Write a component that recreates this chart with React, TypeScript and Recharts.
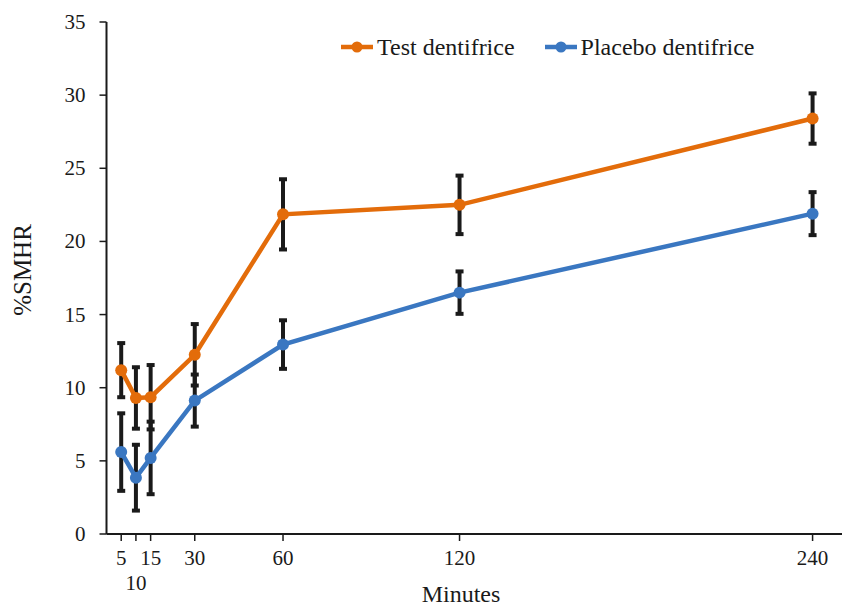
import { LineChart, Line, XAxis, YAxis, ErrorBar } from 'recharts'

const minutes = [5, 10, 15, 30, 60, 120, 240]
const testMean = [11.2, 9.3, 9.35, 12.25, 21.85, 22.5, 28.4]
const testErr = [1.85, 2.1, 2.2, 2.1, 2.4, 2.0, 1.72]
const placeboMean = [5.6, 3.85, 5.2, 9.12, 12.95, 16.5, 21.9]
const placeboErr = [2.65, 2.25, 2.48, 1.78, 1.66, 1.45, 1.47]
const yTicks = [0, 5, 10, 15, 20, 25, 30, 35]

const FONT = "'Liberation Serif', 'Times New Roman', serif"
const ORANGE = '#e36c0a'
const BLUE = '#3a77c1'
const INK = '#1a1a1a'

const data = minutes.map((m, i) => ({
  minute: m,
  test: testMean[i],
  testErr: testErr[i],
  placebo: placeboMean[i],
  placeboErr: placeboErr[i],
}))

function XTick({ x, y, payload }: any) {
  // the 10 label sits on a second row so it does not collide with 5 and 15
  const dy = payload.value === 10 ? 47 : 22
  return (
    <text x={x} y={y + dy} textAnchor="middle" fill={INK} fontSize={21} fontFamily={FONT}>
      {payload.value}
    </text>
  )
}

function YTick({ x, y, payload }: any) {
  return (
    <text x={x} y={y + 7} textAnchor="end" fill={INK} fontSize={21} fontFamily={FONT}>
      {payload.value}
    </text>
  )
}

function ChartLegend() {
  const items = [
    { name: 'Test dentifrice', color: ORANGE },
    { name: 'Placebo dentifrice', color: BLUE },
  ]
  return (
    <div
      style={{
        position: 'absolute',
        left: 340,
        top: 32,
        display: 'flex',
        alignItems: 'center',
        gap: 29,
        fontFamily: FONT,
        fontSize: 24,
        lineHeight: '30px',
        color: INK,
      }}
    >
      {items.map((it) => (
        <span key={it.name} style={{ display: 'flex', alignItems: 'center' }}>
          <svg width={34} height={12} style={{ marginRight: 3 }}>
            <line x1={1} y1={6} x2={33} y2={6} stroke={it.color} strokeWidth={4.5} />
            <circle cx={17} cy={6} r={5.5} fill={it.color} />
          </svg>
          {it.name}
        </span>
      ))}
    </div>
  )
}

export default function App() {
  return (
    <div style={{ position: 'absolute', left: 0, top: 0, width: 843, height: 607, background: '#fff' }}>
      <LineChart width={843} height={607} data={data} margin={{ top: 22, right: 1, bottom: 13, left: 0.5 }}>
        <XAxis
          dataKey="minute"
          type="number"
          domain={[0, 250]}
          ticks={minutes}
          interval={0}
          height={60}
          tick={<XTick />}
          tickSize={7}
          tickMargin={2}
          axisLine={{ stroke: INK, strokeWidth: 2 }}
          tickLine={{ stroke: INK, strokeWidth: 1.5 }}
          label={{
            content: () => (
              <text x={461} y={602} textAnchor="middle" fill={INK} fontSize={24} fontFamily={FONT}>
                Minutes
              </text>
            ),
          }}
        />
        <YAxis
          type="number"
          domain={[0, 35]}
          ticks={yTicks}
          width={106}
          tickSize={7}
          tickMargin={14}
          tick={<YTick />}
          axisLine={{ stroke: INK, strokeWidth: 2 }}
          tickLine={{ stroke: INK, strokeWidth: 1.5 }}
          label={{
            content: () => (
              <text
                x={31}
                y={270}
                transform="rotate(-90 31 270)"
                textAnchor="middle"
                fill={INK}
                fontSize={25}
                fontFamily={FONT}
              >
                %SMHR
              </text>
            ),
          }}
        />
        <Line
          type="linear"
          dataKey="test"
          name="Test dentifrice"
          stroke={ORANGE}
          strokeWidth={4.5}
          dot={{ r: 6, fill: ORANGE, stroke: ORANGE, strokeWidth: 0 }}
          activeDot={false}
          isAnimationActive={false}
        >
          <ErrorBar dataKey="testErr" direction="y" width={4} stroke={INK} strokeWidth={4} />
        </Line>
        <Line
          type="linear"
          dataKey="placebo"
          name="Placebo dentifrice"
          stroke={BLUE}
          strokeWidth={4.5}
          dot={{ r: 6, fill: BLUE, stroke: BLUE, strokeWidth: 0 }}
          activeDot={false}
          isAnimationActive={false}
        >
          <ErrorBar dataKey="placeboErr" direction="y" width={4} stroke={INK} strokeWidth={4} />
        </Line>
      </LineChart>
      <ChartLegend />
    </div>
  )
}
